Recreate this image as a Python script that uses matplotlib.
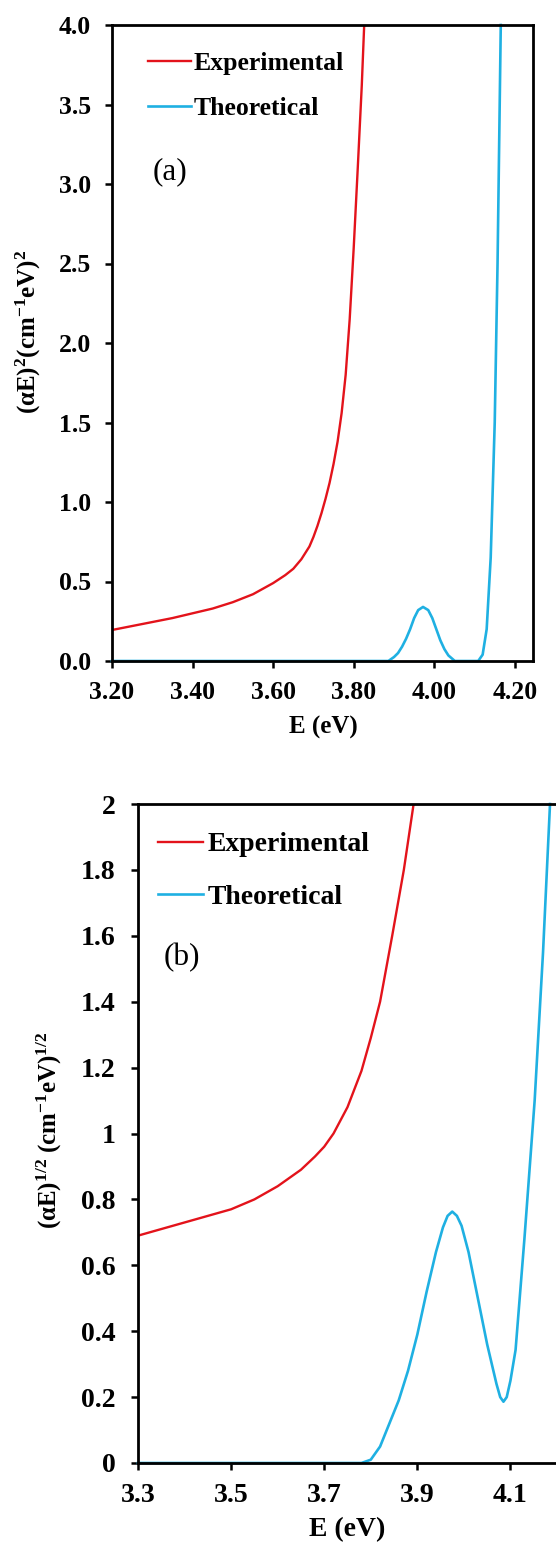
import matplotlib
matplotlib.use("Agg")
import matplotlib.pyplot as plt

plt.rcParams['font.family'] = ['Liberation Serif', 'DejaVu Serif']
plt.rcParams['mathtext.fontset'] = 'custom'
plt.rcParams['mathtext.rm'] = 'Liberation Serif'
plt.rcParams['mathtext.bf'] = 'Liberation Serif:bold'
plt.rcParams['mathtext.it'] = 'Liberation Serif:italic'

# ---- data, panel (a): (alpha E)^2 vs E ----
exp_a_E = [3.20, 3.25, 3.30, 3.35, 3.40, 3.45, 3.50, 3.55, 3.60, 3.63, 3.65, 3.67,
           3.69, 3.70, 3.71, 3.72, 3.73, 3.74, 3.75, 3.76, 3.77, 3.78, 3.79, 3.80,
           3.81, 3.82, 3.826]
exp_a_y = [0.195, 0.22, 0.245, 0.27, 0.30, 0.33, 0.37, 0.42, 0.49, 0.54, 0.58, 0.64,
           0.72, 0.78, 0.85, 0.93, 1.02, 1.12, 1.24, 1.38, 1.56, 1.80, 2.15, 2.60,
           3.10, 3.62, 4.0]

th_a_E = [3.20, 3.886, 3.90, 3.91, 3.92, 3.93, 3.94, 3.95, 3.96, 3.972, 3.985, 3.995,
          4.005, 4.015, 4.025, 4.035, 4.051, 4.109, 4.12, 4.13, 4.14, 4.15, 4.157, 4.165]
th_a_y = [0.0, 0.0, 0.025, 0.05, 0.09, 0.14, 0.20, 0.27, 0.32, 0.34, 0.32, 0.27,
          0.20, 0.13, 0.075, 0.035, 0.0, 0.0, 0.04, 0.20, 0.65, 1.50, 2.50, 4.0]

# ---- data, panel (b): (alpha E)^1/2 vs E ----
exp_b_E = [3.30, 3.35, 3.40, 3.45, 3.50, 3.55, 3.60, 3.65, 3.68, 3.70, 3.72, 3.75,
           3.78, 3.80, 3.82, 3.846, 3.871, 3.892]
exp_b_y = [0.69, 0.71, 0.73, 0.75, 0.77, 0.80, 0.84, 0.89, 0.93, 0.96, 1.00, 1.08,
           1.19, 1.29, 1.40, 1.60, 1.80, 2.0]

th_b_E = [3.30, 3.78, 3.80, 3.82, 3.84, 3.86, 3.88, 3.90, 3.92, 3.94, 3.955, 3.965,
          3.975, 3.985, 3.995, 4.01, 4.03, 4.05, 4.07, 4.078, 4.085, 4.092, 4.10,
          4.111, 4.13, 4.152, 4.17, 4.185]
th_b_y = [0.0, 0.0, 0.01, 0.05, 0.12, 0.19, 0.28, 0.39, 0.52, 0.64, 0.715, 0.75,
          0.763, 0.75, 0.72, 0.64, 0.50, 0.36, 0.24, 0.20, 0.186, 0.20, 0.25,
          0.343, 0.68, 1.10, 1.55, 2.0]

xticks_a = [3.20, 3.40, 3.60, 3.80, 4.00, 4.20]
yticks_a = [0.0, 0.5, 1.0, 1.5, 2.0, 2.5, 3.0, 3.5, 4.0]
xticks_b = [3.3, 3.5, 3.7, 3.9, 4.1]
yticks_b = [0, 0.2, 0.4, 0.6, 0.8, 1, 1.2, 1.4, 1.6, 1.8, 2]
ytick_labels_b = ['0', '0.2', '0.4', '0.6', '0.8', '1', '1.2', '1.4', '1.6', '1.8', '2']

RED = '#e3131b'
CYAN = '#1fb0e2'
W, H = 556, 1542

fig = plt.figure(figsize=(W / 100, H / 100), dpi=100)


def px_axes(left, top, right, bottom):
    return fig.add_axes([left / W, 1 - bottom / H, (right - left) / W, (bottom - top) / H])


def fig_text(x, y, s, **kw):
    return fig.text(x / W, 1 - y / H, s, **kw)


def style(ax, size, xpad, ypad):
    for s in ax.spines.values():
        s.set_linewidth(2.0)
    ax.tick_params(direction='out', length=5, width=1.8, labelsize=size)
    ax.tick_params(axis='x', pad=xpad)
    ax.tick_params(axis='y', pad=ypad)
    for lab in ax.get_xticklabels() + ax.get_yticklabels():
        lab.set_fontweight('bold')


# panel (a)
ax1 = px_axes(112, 25, 533, 661)
ax1.plot(exp_a_E, exp_a_y, color=RED, lw=1.7, label='Experimental')
ax1.plot(th_a_E, th_a_y, color=CYAN, lw=1.9, label='Theoretical', clip_on=False)
ax1.set_xlim(3.20, 4.245)
ax1.set_ylim(0, 4.0)
ax1.set_xticks(xticks_a)
ax1.set_xticklabels([f'{v:.2f}' for v in xticks_a])
ax1.set_yticks(yticks_a)
ax1.set_yticklabels([f'{v:.1f}' for v in yticks_a])
style(ax1, 18.5, 9.5, 10)
fig_text(323, 727, 'E (eV)', fontsize=18, fontweight='bold', ha='center', va='center')
fig_text(28, 332, r'$\mathbf{(\alpha E)^2(cm^{-1}eV)^2}$', fontsize=18,
         rotation=90, ha='center', va='center')
ax1.legend(loc='upper left', bbox_to_anchor=(148 / W, 1 - 52 / H),
           bbox_transform=fig.transFigure, frameon=False,
           prop={'weight': 'bold', 'size': 18.5}, handlelength=1.67, handletextpad=0.12,
           labelspacing=0.87, borderaxespad=0, borderpad=0)
fig_text(170, 172, '(a)', fontsize=22.5, ha='center', va='center')

# panel (b)
ax2 = px_axes(138, 804, 557, 1463)
ax2.plot(exp_b_E, exp_b_y, color=RED, lw=1.7, label='Experimental')
ax2.plot(th_b_E, th_b_y, color=CYAN, lw=1.9, label='Theoretical', clip_on=False)
ax2.set_xlim(3.3, 4.2)
ax2.set_ylim(0, 2)
ax2.set_xticks(xticks_b)
ax2.set_xticklabels([f'{v:.1f}' for v in xticks_b])
ax2.set_yticks(yticks_b)
ax2.set_yticklabels(ytick_labels_b)
style(ax2, 20, 9.5, 11)
ax2.spines['right'].set_visible(False)
fig_text(347, 1530, 'E (eV)', fontsize=20, fontweight='bold', ha='center', va='center')
fig_text(49, 1130, r'$\mathbf{(\alpha E)^{1/2}\ (cm^{-1}eV)^{1/2}}$', fontsize=18,
         rotation=90, ha='center', va='center')
ax2.legend(loc='upper left', bbox_to_anchor=(158 / W, 1 - 832 / H),
           bbox_transform=fig.transFigure, frameon=False,
           prop={'weight': 'bold', 'size': 20}, handlelength=1.62, handletextpad=0.18,
           labelspacing=0.97, borderaxespad=0, borderpad=0)
fig_text(182, 958, '(b)', fontsize=22.5, ha='center', va='center')

fig.savefig('out.png', dpi=100)
